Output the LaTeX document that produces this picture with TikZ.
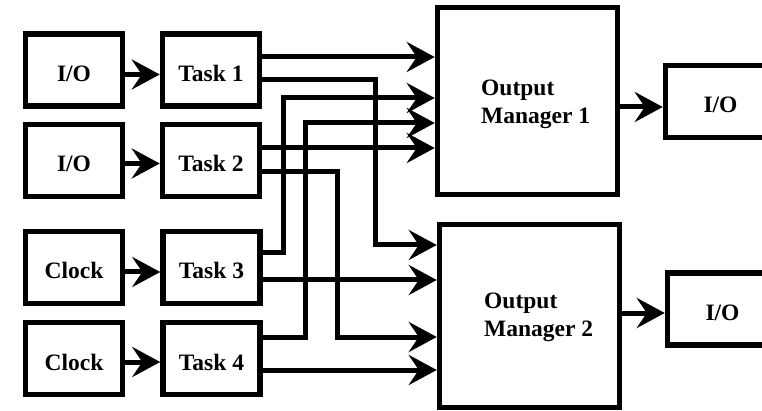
\documentclass[tikz,border=0pt]{standalone}
\usepackage{fontspec}
\setmainfont{Liberation Serif}
\usetikzlibrary{arrows.meta}
\begin{document}
\begin{tikzpicture}[x=1pt,y=-1pt,
 box/.style={draw, line width=5.5pt, minimum width=97pt, minimum height=72pt, inner sep=0pt,
   text height=23pt, text depth=0pt, font=\fontsize{23.5}{27}\selectfont\bfseries},
 rbox/.style={box, minimum width=110pt, minimum height=72pt},
 bigbox/.style={draw, line width=5.5pt, minimum width=180pt, inner sep=0pt},
 lbl/.style={align=left, anchor=west, inner sep=0pt, font=\fontsize{23.5}{28}\selectfont\bfseries},
 conn/.style={line width=5pt, -{Stealth[length=28pt,width=30pt,inset=10pt]}}]
\useasboundingbox (0,0) rectangle (762,411);

% left column
\node[box] (io1) at (74,70) {I/O};
\node[box] (t1) at (211,70) {Task 1};
\node[box] (io2) at (74,160.5) {I/O};
\node[box] (t2) at (211,160.5) {Task 2};
\node[box] (c1) at (74,267.5) {Clock};
\node[box] (t3) at (211.5,267.5) {Task 3};
\node[box] (c2) at (74,358.5) {Clock};
\node[box] (t4) at (211.5,358.5) {Task 4};

% output managers
\node[bigbox, minimum height=187pt] (om1) at (527.5,101) {};
\node[bigbox, minimum height=183pt] (om2) at (529.5,316) {};
\node[lbl] (om1l) at (481,104) {Output\\Manager 1};
\node[lbl] (om2l) at (484,317) {Output\\Manager 2};

% right I/O
\node[rbox] (io3) at (720.5,101.5) {I/O};
\node[rbox] (io4) at (722.5,309) {I/O};

% short arrows
\draw[conn] ([yshift=-4.5pt]io1.east) -- ([yshift=-4.5pt]t1.west);
\draw[conn] ([yshift=-3pt]io2.east) -- ([yshift=-3pt]t2.west);
\draw[conn] ([yshift=-4.5pt]c1.east) -- ([yshift=-4.5pt]t3.west);
\draw[conn] ([yshift=-3.5pt]c2.east) -- ([yshift=-3.5pt]t4.west);
\draw[conn] ([yshift=-5.5pt]io3.west -| om1.east) -- ([yshift=-5.5pt]io3.west);
\draw[conn] ([yshift=-4pt]io4.west -| om2.east) -- ([yshift=-4pt]io4.west);

% routing coordinates
\coordinate (y57) at (0,57);
\coordinate (y148) at (0,148);
\coordinate (y280) at (0,280);
\coordinate (y370) at (0,370);
\coordinate (a1) at (375,80);  \coordinate (a2) at (375,245);
\coordinate (b1) at (337,172); \coordinate (b2) at (337,337);
\coordinate (c1a) at (283,253); \coordinate (c2a) at (283,98);
\coordinate (d1) at (305,337); \coordinate (d2) at (305,123);

% Task 1
\draw[conn] (t1.east |- y57) -- (om1.west |- y57);
\draw[conn] (t1.east |- a1) -- (a1) -- (a2) -- (om2.west |- a2);
% Task 2
\draw[conn] (t2.east |- y148) -- (om1.west |- y148);
\draw[conn] (t2.east |- b1) -- (b1) -- (b2) -- (om2.west |- b2);
% Task 3
\draw[conn] (t3.east |- c1a) -- (c1a) -- (c2a) -- (om1.west |- c2a);
\draw[conn] (t3.east |- y280) -- (om2.west |- y280);
% Task 4
\draw[conn] (t4.east |- d1) -- (d1) -- (d2) -- (om1.west |- d2);
\draw[conn] (t4.east |- y370) -- (om2.west |- y370);
\end{tikzpicture}
\end{document}
